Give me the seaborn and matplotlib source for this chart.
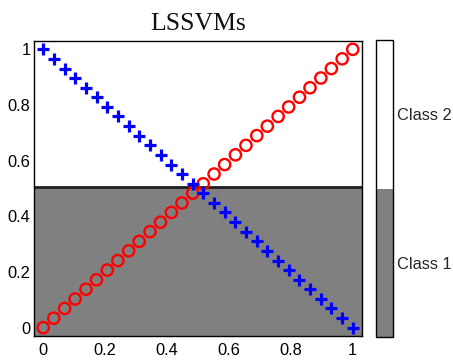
import matplotlib
matplotlib.use("Agg")
import matplotlib.pyplot as plt
from matplotlib.colors import ListedColormap, BoundaryNorm
import seaborn as sns
import pandas as pd

# ---- data ----
x_vals = [0.0, 0.034, 0.069, 0.103, 0.138, 0.172, 0.207, 0.241, 0.276, 0.310,
          0.345, 0.379, 0.414, 0.448, 0.483, 0.517, 0.552, 0.586, 0.621, 0.655,
          0.690, 0.724, 0.759, 0.793, 0.828, 0.862, 0.897, 0.931, 0.966, 1.0]
class2_y = [0.0, 0.034, 0.069, 0.103, 0.138, 0.172, 0.207, 0.241, 0.276, 0.310,
            0.345, 0.379, 0.414, 0.448, 0.483, 0.517, 0.552, 0.586, 0.621, 0.655,
            0.690, 0.724, 0.759, 0.793, 0.828, 0.862, 0.897, 0.931, 0.966, 1.0]
class1_y = [1.0, 0.966, 0.931, 0.897, 0.862, 0.828, 0.793, 0.759, 0.724, 0.690,
            0.655, 0.621, 0.586, 0.552, 0.517, 0.483, 0.448, 0.414, 0.379, 0.345,
            0.310, 0.276, 0.241, 0.207, 0.172, 0.138, 0.103, 0.069, 0.034, 0.0]
boundary_y = 0.505
class_labels = ["Class 1", "Class 2"]
x_ticks = [0, 0.2, 0.4, 0.6, 0.8, 1]
x_ticklabels = ["0", "0.2", "0.4", "0.6", "0.8", "1"]
y_ticks = [0, 0.2, 0.4, 0.6, 0.8, 1]
y_ticklabels = ["0", "0.2", "0.4", "0.6", "0.8", "1"]
title = "LSSVMs"

sns.set_theme(style="white")
plt.rcParams["font.family"] = ["Liberation Sans", "DejaVu Sans"]

fig = plt.figure(figsize=(4.53, 3.62), dpi=100)
ax = fig.add_axes([34/453, (362-336)/362, 328/453, 295/362])
cax = fig.add_axes([376/453, (362-337)/362, 17/453, 297/362])

lo, hi = -0.03, 1.03
cmap = ListedColormap(["#808080", "#ffffff"])
norm = BoundaryNorm([-0.5, 0.5, 1.5], 2)
mesh = ax.pcolormesh([lo, hi], [lo, boundary_y, hi], [[0], [1]],
                     cmap=cmap, norm=norm, shading="flat", zorder=0)
ax.axhline(boundary_y, color="#1e1e1e", lw=2.0, zorder=1)

df_red = pd.DataFrame({"x": x_vals, "y": class2_y})
df_blue = pd.DataFrame({"x": x_vals, "y": class1_y})
sns.scatterplot(data=df_red, x="x", y="y", ax=ax, marker="o", s=66,
                fc="none", ec="#ff0000", linewidth=1.7, zorder=3)
sns.scatterplot(data=df_blue, x="x", y="y", ax=ax, marker="+", s=85,
                color="#0000ff", linewidth=2.3, zorder=4)

ax.set_xlim(lo, hi)
ax.set_ylim(lo, hi)
ax.set_xlabel("")
ax.set_ylabel("")
ax.set_xticks(x_ticks)
ax.set_xticklabels(x_ticklabels)
ax.set_yticks(y_ticks)
ax.set_yticklabels(y_ticklabels)
ax.tick_params(axis="both", length=0, labelsize=11.8, colors="#000000")
ax.tick_params(axis="x", pad=5)
ax.tick_params(axis="y", pad=2.5)
for sp in ax.spines.values():
    sp.set_visible(True)
    sp.set_color("black")
    sp.set_linewidth(1.0)
ax.set_title(title, family=["Liberation Serif"], fontsize=18.5, pad=8,
             color="#111111")

cb = fig.colorbar(mesh, cax=cax, ticks=[0, 1])
cb.minorticks_off()
cb.set_ticklabels(class_labels)
cb.outline.set_edgecolor("black")
cb.outline.set_linewidth(1.0)
cax.tick_params(which="both", length=2, width=0.6, direction="in",
                labelsize=11.8, pad=3, color="#555555", left=True, right=True)
cax.tick_params(which="minor", length=0)

fig.savefig("out.png", dpi=100)
